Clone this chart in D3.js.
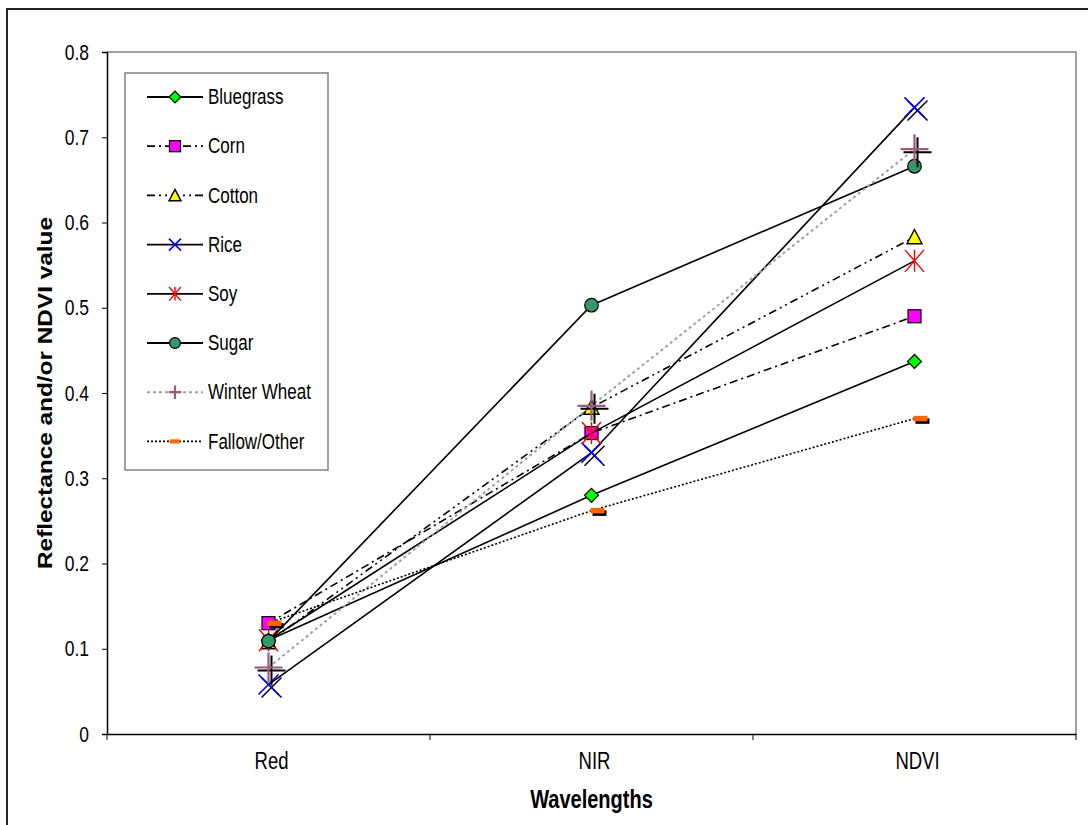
<!DOCTYPE html>
<html>
<head>
<meta charset="utf-8">
<script src="https://cdn.jsdelivr.net/npm/d3@7"></script>
<style>
  html, body { margin: 0; padding: 0; background: #fff; }
  svg { display: block; }
  text { font-family: "Liberation Sans", Arial, sans-serif; fill: #000; }
</style>
</head>
<body>
<svg id="chart" width="1088" height="825"></svg>
<script>
// ---------- data ----------
const categories = ["Red", "NIR", "NDVI"];
const seriesNames = ["Bluegrass", "Corn", "Cotton", "Rice", "Soy", "Sugar", "Winter Wheat", "Fallow/Other"];
const bluegrass   = [0.110, 0.280, 0.437];
const corn        = [0.130, 0.353, 0.490];
const cotton      = [0.108, 0.383, 0.583];
const rice        = [0.058, 0.330, 0.735];
const soy         = [0.110, 0.353, 0.555];
const sugar       = [0.109, 0.503, 0.666];
const winterWheat = [0.078, 0.385, 0.686];
const fallowOther = [0.130, 0.262, 0.370];
const yTickValues = [0, 0.1, 0.2, 0.3, 0.4, 0.5, 0.6, 0.7, 0.8];
const yTickLabels = ["0", "0.1", "0.2", "0.3", "0.4", "0.5", "0.6", "0.7", "0.8"];
const yTitle = "Reflectance and/or NDVI value";
const xTitle = "Wavelengths";

const seriesValues = [bluegrass, corn, cotton, rice, soy, sugar, winterWheat, fallowOther];

// ---------- styles ----------
const styles = [
  { marker: "diamond",  fill: "#00ff00", stroke: "#000", line: "#000", dash: null },
  { marker: "square",   fill: "#ff00ff", stroke: "#000", line: "#000", dash: "8,4,2,4" },
  { marker: "triangle", fill: "#ffff00", stroke: "#000", line: "#000", dash: "8,4,2,4,2,4" },
  { marker: "x",        fill: "none",    stroke: "#0000ff", line: "#000", dash: null },
  { marker: "star",     fill: "none",    stroke: "#ff0000", line: "#000", dash: null },
  { marker: "circle",   fill: "#339966", stroke: "#000", line: "#000", dash: null },
  { marker: "plus",     fill: "none",    stroke: "#9b5a80", line: "#a0a0a0", dash: "3,3" },
  { marker: "dash",     fill: "#ff6600", stroke: "none", line: "#000", dash: "2,2" }
];
const legendScale = { diamond: 0.85, square: 0.85, triangle: 0.8, x: 0.6, star: 0.62, circle: 0.8, plus: 0.45, dash: 0.75 };

const svg = d3.select("#chart");
const plot = { left: 107, right: 1076, top: 52, bottom: 734 };
const VS = 1.25; // vertical text stretch seen in reference

// outer chart border (only top and left visible)
svg.append("rect").attr("x", 7).attr("y", 9).attr("width", 1200).attr("height", 1000)
  .attr("fill", "none").attr("stroke", "#222").attr("stroke-width", 2);

const x = d3.scaleBand().domain(categories).range([plot.left, plot.right]);
const y = d3.scaleLinear().domain([0, 0.8]).range([plot.bottom, plot.top]);

// plot area border (gray, top and right)
svg.append("path")
  .attr("d", `M${plot.left},${plot.top}H${plot.right}V${plot.bottom}`)
  .attr("fill", "none").attr("stroke", "#808080").attr("stroke-width", 1.5);

// y axis
const yAxis = svg.append("g").attr("transform", `translate(${plot.left},0)`)
  .call(d3.axisLeft(y).tickValues(yTickValues).tickSize(5).tickFormat(""));
yAxis.select(".domain").attr("stroke", "#000").attr("stroke-width", 1.5);
yAxis.selectAll(".tick line").attr("stroke", "#000");
yTickValues.forEach((v, i) => {
  svg.append("text")
    .attr("transform", `translate(89,${y(v)}) scale(1,${VS})`)
    .attr("text-anchor", "end").attr("dominant-baseline", "central")
    .style("font-size", "17.5px").text(yTickLabels[i]);
});

// x axis
const xAxis = svg.append("g").attr("transform", `translate(0,${plot.bottom})`)
  .call(d3.axisBottom(x).tickSize(0).tickFormat(""));
xAxis.select(".domain").attr("stroke", "#000").attr("stroke-width", 1.5);
const bounds = [plot.left].concat(categories.map(c => x(c) + x.bandwidth()));
bounds.forEach(b => {
  svg.append("line").attr("x1", b).attr("x2", b).attr("y1", plot.bottom).attr("y2", plot.bottom + 6)
    .attr("stroke", "#000").attr("stroke-width", 1);
});
categories.forEach(c => {
  svg.append("text")
    .attr("transform", `translate(${x(c) + x.bandwidth() / 2 + 3},${plot.bottom + 27}) scale(1,${VS})`)
    .attr("text-anchor", "middle").attr("dominant-baseline", "central")
    .style("font-size", "18.5px").text(c);
});

// axis titles
svg.append("text")
  .attr("transform", `translate(${(plot.left + plot.right) / 2},${plot.bottom + 66}) scale(1,${VS})`)
  .attr("text-anchor", "middle").attr("dominant-baseline", "central")
  .style("font-size", "20px").style("font-weight", "bold").text(xTitle);
svg.append("text")
  .attr("transform", `translate(45,${(plot.top + plot.bottom) / 2}) scale(1,${VS}) rotate(-90)`)
  .attr("text-anchor", "middle").attr("dominant-baseline", "central")
  .style("font-size", "19.5px").style("font-weight", "bold").text(yTitle);

// ---------- markers ----------
function drawMarker(g, type, cx, cy, s, st, shadow) {
  const m = g.append("g").attr("transform", `translate(${cx},${cy})`);
  if (type === "diamond") {
    const r = 7 * s;
    m.append("path").attr("d", `M0,${-r}L${r},0L0,${r}L${-r},0Z`)
      .attr("fill", st.fill).attr("stroke", st.stroke).attr("stroke-width", 1.2);
  } else if (type === "square") {
    const r = 6.5 * s;
    m.append("rect").attr("x", -r).attr("y", -r).attr("width", 2 * r).attr("height", 2 * r)
      .attr("fill", st.fill).attr("stroke", st.stroke).attr("stroke-width", 1.2);
  } else if (type === "triangle") {
    const r = 7.5 * s;
    m.append("path").attr("d", `M0,${-r}L${r},${r * 0.9}L${-r},${r * 0.9}Z`)
      .attr("fill", st.fill).attr("stroke", st.stroke).attr("stroke-width", 1.4);
  } else if (type === "circle") {
    m.append("circle").attr("r", 6.8 * s)
      .attr("fill", st.fill).attr("stroke", st.stroke).attr("stroke-width", 1.2);
  } else if (type === "x") {
    const r = 10 * s;
    const d = `M${-r},${-r}L${r},${r}M${r},${-r}L${-r},${r}`;
    if (shadow) m.append("path").attr("d", d).attr("transform", "translate(3,3)")
      .attr("stroke", "#000").attr("stroke-width", 1.5).attr("fill", "none");
    m.append("path").attr("d", d).attr("stroke", st.stroke).attr("stroke-width", 1.6).attr("fill", "none");
  } else if (type === "star") {
    const rx = 9.5 * s, ry = 11 * s;
    const d = `M${-rx},${-ry}L${rx},${ry}M${rx},${-ry}L${-rx},${ry}M0,${-ry}L0,${ry}`;
    m.append("path").attr("d", d).attr("stroke", st.stroke).attr("stroke-width", 1.4).attr("fill", "none");
  } else if (type === "plus") {
    const rx = 14 * s, ry = 15 * s;
    const d = `M${-rx},0L${rx},0M0,${-ry}L0,${ry}`;
    if (shadow) m.append("path").attr("d", d).attr("transform", "translate(3,3)")
      .attr("stroke", "#000").attr("stroke-width", 2).attr("fill", "none");
    m.append("path").attr("d", d).attr("stroke", st.stroke).attr("stroke-width", 2.2).attr("fill", "none");
  } else if (type === "dash") {
    const w = 14 * s, h = 5.5 * s;
    if (shadow) m.append("rect").attr("x", -w / 2 + 2).attr("y", -h / 2 + 2.5).attr("width", w).attr("height", h)
      .attr("fill", "#000");
    m.append("rect").attr("x", -w / 2).attr("y", -h / 2).attr("width", w).attr("height", h)
      .attr("fill", st.fill);
  }
}

// ---------- series ----------
const line = d3.line().x((d, i) => x(categories[i]) + x.bandwidth() / 2).y(d => y(d));
const seriesG = svg.append("g");
seriesValues.forEach((vals, si) => {
  const st = styles[si];
  const g = seriesG.append("g");
  g.append("path").datum(vals).attr("d", line)
    .attr("fill", "none").attr("stroke", st.line).attr("stroke-width", st.marker === "plus" ? 2 : 1.6)
    .attr("stroke-dasharray", st.dash);
  vals.forEach((v, i) => {
    const cx = x(categories[i]) + x.bandwidth() / 2 + (st.marker === "dash" ? 6 : 0);
    drawMarker(g, st.marker, cx, y(v), 1, st, true);
  });
});

// ---------- legend ----------
const legend = svg.append("g");
legend.append("rect").attr("x", 125).attr("y", 73).attr("width", 203).attr("height", 397)
  .attr("fill", "#fff").attr("stroke", "#808080").attr("stroke-width", 1.5);
seriesNames.forEach((name, i) => {
  const st = styles[i];
  const ly = 97 + i * 49.2;
  legend.append("line").attr("x1", 147).attr("x2", 203).attr("y1", ly).attr("y2", ly)
    .attr("stroke", st.line).attr("stroke-width", st.marker === "plus" ? 2 : 1.8)
    .attr("stroke-dasharray", st.dash);
  drawMarker(legend, st.marker, 175, ly, legendScale[st.marker], st, false);
  legend.append("text")
    .attr("transform", `translate(208,${ly}) scale(1,${VS})`)
    .attr("dominant-baseline", "central")
    .style("font-size", "17px").text(name);
});
</script>
</body>
</html>
